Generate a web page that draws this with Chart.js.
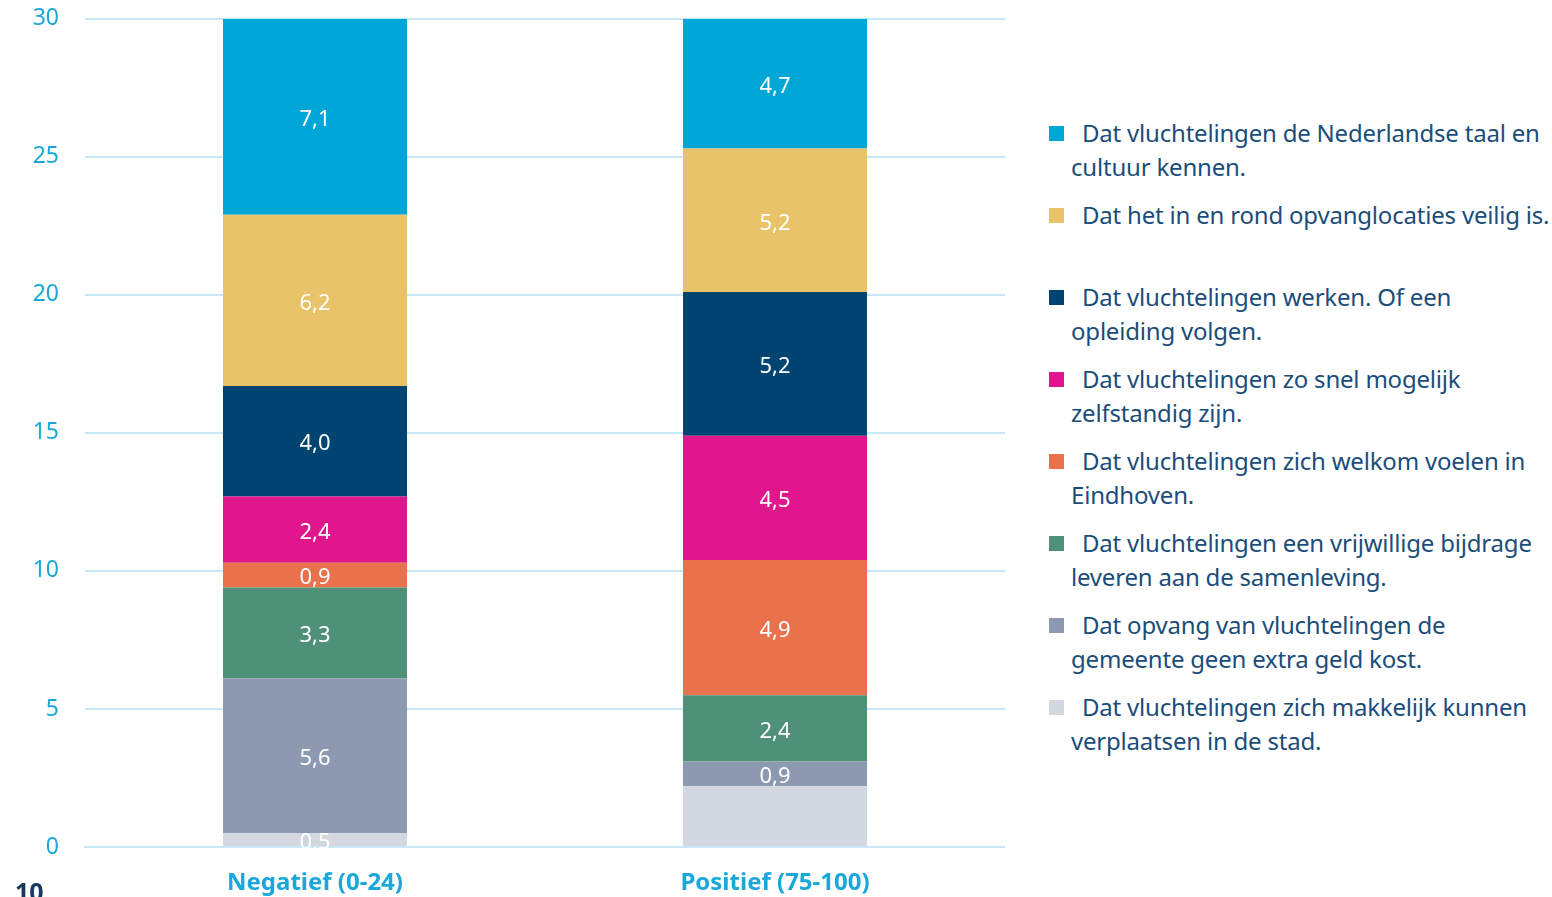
<!DOCTYPE html>
<html>
<head>
<meta charset="utf-8">
<script src="https://cdn.jsdelivr.net/npm/chart.js@4/dist/chart.umd.min.js"></script>
<style>
  html, body { margin: 0; padding: 0; background: #fff; overflow: hidden; }
  body { width: 1552px; height: 897px; position: relative; font-family: "Noto Sans", sans-serif; }
  #wrap { position: absolute; left: 0; top: -21px; width: 1005px; height: 918px; }
  #legend { position: absolute; left: 1049px; top: 116px; width: 503px; margin: 0; padding: 0; list-style: none; }
  #legend li { height: 82px; position: relative; padding-left: 22px; color: #1b4d7a; font-size: 24px; line-height: 34px; letter-spacing: -0.2px; }
  #legend li span.box { position: absolute; left: 0; top: 10px; width: 15px; height: 15px; }
  #legend li span.txt { display: block; text-indent: 11px; }
  #pagenr { position: absolute; left: 15px; top: 874px; font-size: 25px; font-weight: bold; color: #14395e; }
</style>
</head>
<body>
<div id="wrap"><canvas id="grafiek" width="1005" height="918"></canvas></div>
<ul id="legend"></ul>
<div id="pagenr">10</div>
<script>
// categorieën en waarden (onder naar boven gestapeld)
const categorieen = ["Negatief (0-24)", "Positief (75-100)"];

const labelsReeks = [
    "Dat vluchtelingen zich makkelijk kunnen verplaatsen in de stad.",
    "Dat opvang van vluchtelingen de gemeente geen extra geld kost.",
    "Dat vluchtelingen een vrijwillige bijdrage leveren aan de samenleving.",
    "Dat vluchtelingen zich welkom voelen in Eindhoven.",
    "Dat vluchtelingen zo snel mogelijk zelfstandig zijn.",
    "Dat vluchtelingen werken. Of een opleiding volgen.",
    "Dat het in en rond opvanglocaties veilig is.",
    "Dat vluchtelingen de Nederlandse taal en cultuur kennen."
];
const kleuren = ["#d3d8e0", "#8d99b0", "#4e9176", "#e9724c", "#e0168c", "#004571", "#e8c36a", "#00a6d6"];

const verplaatsen = [0.5, 2.2];
const geldKost = [5.6, 0.9];
const vrijwillig = [3.3, 2.4];
const welkom = [0.9, 4.9];
const zelfstandig = [2.4, 4.5];
const werken = [4.0, 5.2];
const veilig = [6.2, 5.2];
const taalCultuur = [7.1, 4.7];

const yTicks = [0, 5, 10, 15, 20, 25, 30];

const reeksen = [verplaatsen, geldKost, vrijwillig, welkom, zelfstandig, werken, veilig, taalCultuur];

// legenda (boven naar beneden)
const lijst = document.getElementById('legend');
for (let i = reeksen.length - 1; i >= 0; i--) {
    const li = document.createElement('li');
    li.innerHTML = '<span class="box" style="background:' + kleuren[i] + '"></span><span class="txt">' + labelsReeks[i] + '</span>';
    lijst.appendChild(li);
}

// waarden in de balken tekenen
const waardeLabels = {
    id: 'waardeLabels',
    afterDatasetsDraw(chart) {
        const ctx = chart.ctx;
        ctx.save();
        ctx.fillStyle = '#ffffff';
        ctx.font = '22px "Noto Sans"';
        ctx.textAlign = 'center';
        ctx.textBaseline = 'middle';
        chart.data.datasets.forEach((ds, d) => {
            chart.getDatasetMeta(d).data.forEach((bar, i) => {
                if (d === 0 && i === 1) return; // niet zichtbaar in origineel
                const midden = (bar.y + bar.base) / 2 + 3;
                ctx.fillText(ds.data[i].toFixed(1).replace('.', ','), bar.x, midden);
            });
        });
        ctx.restore();
    }
};

const ctx = document.getElementById('grafiek').getContext('2d');
new Chart(ctx, {
    type: 'bar',
    data: {
        labels: categorieen,
        datasets: reeksen.map((r, i) => ({
            label: labelsReeks[i],
            data: r,
            backgroundColor: kleuren[i],
            borderWidth: 0,
            barPercentage: 0.4,
            categoryPercentage: 1.0
        }))
    },
    options: {
        responsive: false,
        animation: false,
        devicePixelRatio: 1,
        layout: { padding: 0 },
        plugins: { legend: { display: false }, tooltip: { enabled: false } },
        scales: {
            x: {
                stacked: true,
                grid: { display: false },
                border: { display: true, color: '#c9e8f7', width: 2 },
                ticks: { color: '#1aa7d9', font: { family: 'Noto Sans', size: 24, weight: 'bold' }, padding: 14 },
                afterFit(scale) { scale.height = 50; }
            },
            y: {
                stacked: true,
                min: 0,
                max: 30,
                afterBuildTicks(scale) { scale.ticks = yTicks.map(v => ({ value: v })); },
                grid: { color: '#c9e8f7', lineWidth: 2, drawTicks: false },
                border: { display: false },
                ticks: { color: '#1aa7d9', font: { family: 'Noto Sans', size: 23 }, padding: 26 },
                afterFit(scale) { scale.width = 85; }
            }
        }
    },
    plugins: [waardeLabels]
});
</script>
</body>
</html>
